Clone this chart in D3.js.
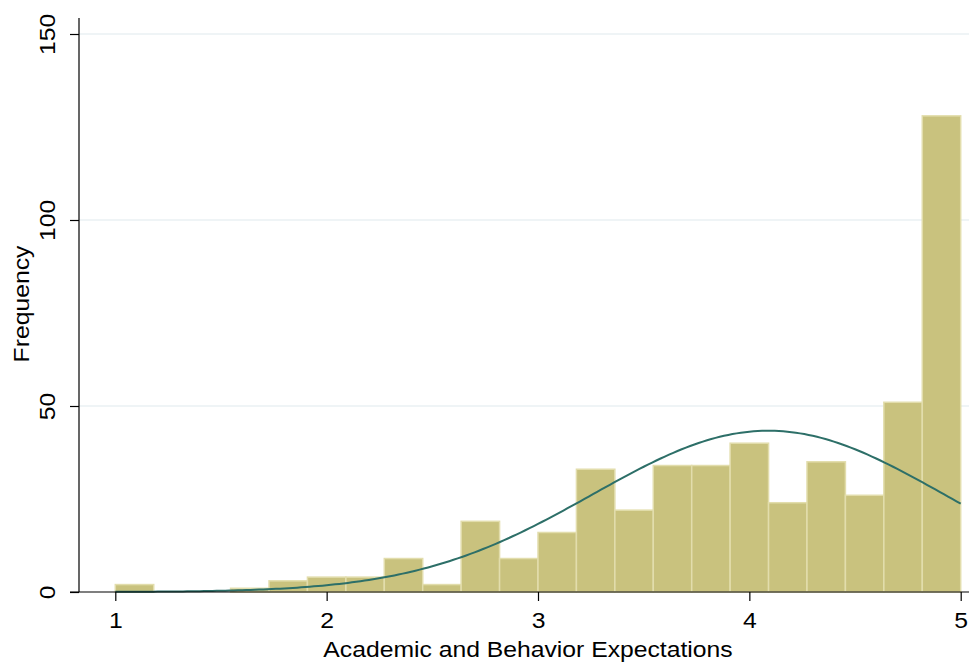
<!DOCTYPE html>
<html>
<head>
<meta charset="utf-8">
<script src="https://cdn.jsdelivr.net/npm/d3@7"></script>
<style>
  body { margin: 0; background: #fff; }
  text { font-family: "Liberation Sans", Arial, Helvetica, sans-serif; fill: #000; }
</style>
</head>
<body>
<div id="chart"></div>
<script>
// Histogram counts, 22 equal-width bins from 1 to 5
const binMin = 1;
const binMax = 5;
const counts = [2, 0, 0, 1, 3, 4, 4, 9, 2, 19, 9, 16, 33, 22, 34, 34, 40, 24, 35, 26, 51, 128];

// normal overlay parameters (fitted to data)
const fitMean = 4.09;
const fitSd = 0.83;

const xTicks = [1, 2, 3, 4, 5];
const yTicks = [0, 50, 100, 150];

const width = 969;
const height = 664;
const textScale = 1.15; // reference glyphs are wider than Liberation Sans

const svg = d3.select("#chart")
    .append("svg")
    .attr("width", width)
    .attr("height", height);

const x = d3.scaleLinear().domain([1, 5]).range([115.3, 960.7]);
const y = d3.scaleLinear().domain([0, 150]).range([592, 34]);

const plotLeft = 79, plotRight = 969, plotTop = 18;

// grid lines
svg.selectAll(".grid")
    .data(yTicks.filter(d => d > 0))
    .enter().append("line")
    .attr("class", "grid")
    .attr("x1", plotLeft)
    .attr("x2", plotRight)
    .attr("y1", d => y(d))
    .attr("y2", d => y(d))
    .style("stroke", "#eaf1f3")
    .style("stroke-width", 1.5);

// bars
const binWidth = (binMax - binMin) / counts.length;
const bins = counts.map((c, i) => ({ x0: binMin + i * binWidth, x1: binMin + (i + 1) * binWidth, n: c }));

svg.selectAll(".bar")
    .data(bins.filter(d => d.n > 0))
    .enter().append("rect")
    .attr("class", "bar")
    .attr("x", d => x(d.x0))
    .attr("width", d => x(d.x1) - x(d.x0))
    .attr("y", d => y(d.n))
    .attr("height", d => y(0) - y(d.n))
    .style("fill", "#c9c27e")
    .style("stroke", "#e2ddac")
    .style("stroke-width", 1.5);

// normal density scaled to frequency
const total = d3.sum(counts);
const normal = v => total * binWidth * Math.exp(-0.5 * ((v - fitMean) / fitSd) ** 2) / (fitSd * Math.sqrt(2 * Math.PI));
const curvePts = d3.range(0, 201).map(i => binMin + (binMax - binMin) * i / 200);

svg.append("path")
    .datum(curvePts)
    .attr("fill", "none")
    .style("stroke", "#2d6f68")
    .style("stroke-width", 2)
    .attr("d", d3.line().x(d => x(d)).y(d => y(normal(d))));

// x axis
const xAxis = svg.append("g")
    .attr("transform", `translate(0, ${y(0)})`)
    .call(d3.axisBottom(x).tickValues(xTicks).tickSize(9).tickSizeOuter(0).tickFormat(d3.format("d")));
xAxis.select(".domain").remove();
xAxis.selectAll(".tick line").style("stroke", "#000").style("stroke-width", 1.2);
xAxis.selectAll(".tick text")
    .attr("y", null).attr("dy", null)
    .attr("transform", `translate(0, 35.5) scale(${textScale}, 1)`)
    .style("font-size", "21.5px")
    .style("font-family", "'Liberation Sans', Arial, sans-serif");
xAxis.append("line")
    .attr("x1", 70).attr("x2", plotRight)
    .style("stroke", "#000").style("stroke-width", 1.2);

// y axis
const yAxis = svg.append("g")
    .attr("transform", `translate(${plotLeft}, 0)`)
    .call(d3.axisLeft(y).tickValues(yTicks).tickSize(9).tickSizeOuter(0));
yAxis.select(".domain").remove();
yAxis.selectAll(".tick line").style("stroke", "#000").style("stroke-width", 1.2);
yAxis.selectAll(".tick text")
    .attr("x", null).attr("dy", null)
    .attr("text-anchor", "middle")
    .attr("transform", `translate(-24, 0) rotate(-90) scale(${textScale}, 1)`)
    .style("font-size", "21.5px")
    .style("font-family", "'Liberation Sans', Arial, sans-serif");
yAxis.append("line")
    .attr("y1", plotTop).attr("y2", y(0))
    .style("stroke", "#000").style("stroke-width", 1.2);

// axis titles
svg.append("text")
    .attr("text-anchor", "middle")
    .attr("transform", `translate(528, 657) scale(${textScale}, 1)`)
    .style("font-size", "21.5px")
    .text("Academic and Behavior Expectations");

svg.append("text")
    .attr("text-anchor", "middle")
    .attr("transform", `translate(29, 304) rotate(-90) scale(${textScale}, 1)`)
    .style("font-size", "21.5px")
    .text("Frequency");
</script>
</body>
</html>
